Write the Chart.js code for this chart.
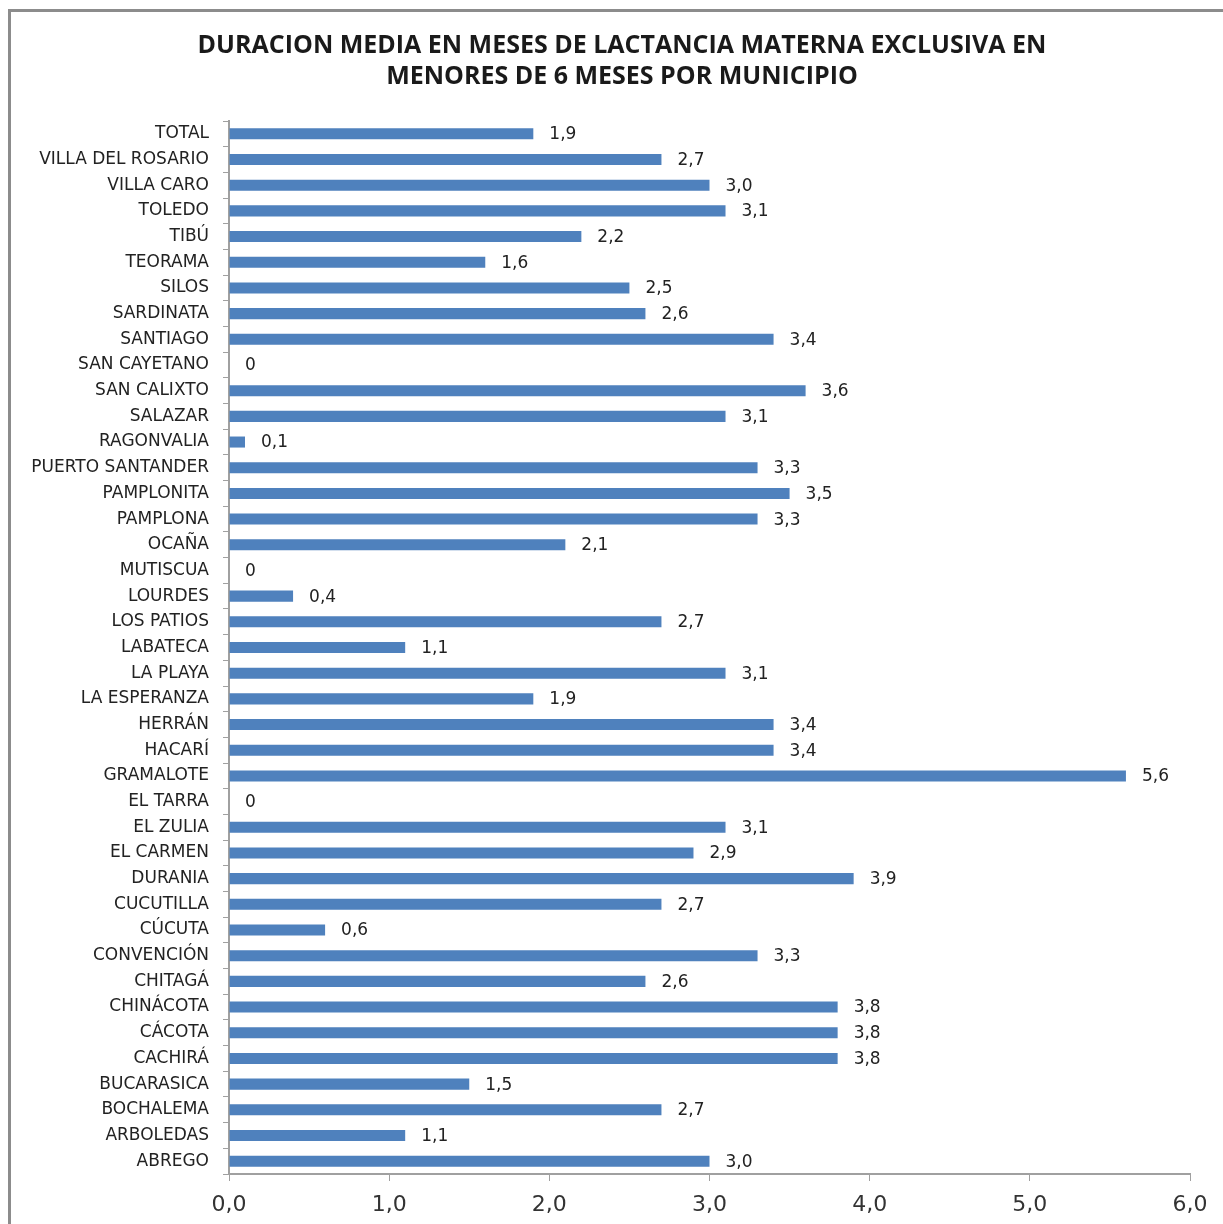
<!DOCTYPE html>
<html>
<head>
<meta charset="utf-8">
<script src="https://cdn.jsdelivr.net/npm/chart.js@4.4.0/dist/chart.umd.min.js"></script>
<style>
  html, body { margin: 0; padding: 0; background: #fff; overflow: hidden; }
  #frame { position: absolute; left: 8px; top: 9px; width: 1300px; height: 1300px;
           border-left: 3px solid #8c8c8c; border-top: 3px solid #8c8c8c; }
  #wrap { position: absolute; left: 0; top: 0; width: 1223px; height: 1224px; }
</style>
</head>
<body>
<div id="frame"></div>
<div id="wrap"><canvas id="chart"></canvas></div>
<script>
// Datos
const municipios = [
    'TOTAL', 'VILLA DEL ROSARIO', 'VILLA CARO', 'TOLEDO', 'TIBÚ', 'TEORAMA', 'SILOS',
    'SARDINATA', 'SANTIAGO', 'SAN CAYETANO', 'SAN CALIXTO', 'SALAZAR', 'RAGONVALIA',
    'PUERTO SANTANDER', 'PAMPLONITA', 'PAMPLONA', 'OCAÑA', 'MUTISCUA', 'LOURDES',
    'LOS PATIOS', 'LABATECA', 'LA PLAYA', 'LA ESPERANZA', 'HERRÁN', 'HACARÍ',
    'GRAMALOTE', 'EL TARRA', 'EL ZULIA', 'EL CARMEN', 'DURANIA', 'CUCUTILLA', 'CÚCUTA',
    'CONVENCIÓN', 'CHITAGÁ', 'CHINÁCOTA', 'CÁCOTA', 'CACHIRÁ', 'BUCARASICA',
    'BOCHALEMA', 'ARBOLEDAS', 'ABREGO'
];
const duracionMeses = [
    1.9, 2.7, 3.0, 3.1, 2.2, 1.6, 2.5,
    2.6, 3.4, 0, 3.6, 3.1, 0.1,
    3.3, 3.5, 3.3, 2.1, 0, 0.4,
    2.7, 1.1, 3.1, 1.9, 3.4, 3.4,
    5.6, 0, 3.1, 2.9, 3.9, 2.7, 0.6,
    3.3, 2.6, 3.8, 3.8, 3.8, 1.5,
    2.7, 1.1, 3.0
];
const ejeX = { min: 0, max: 6, step: 1 };
const titulo = [
    'DURACION MEDIA EN MESES DE LACTANCIA MATERNA EXCLUSIVA EN',
    'MENORES DE 6 MESES POR MUNICIPIO'
];

const fuente = "'DejaVu Sans', sans-serif";
const fuenteTitulo = "'Open Sans', sans-serif";

function formatoComa(v) {
    if (v === 0) return '0';
    return v.toFixed(1).replace('.', ',');
}

// Título centrado en el marco (no en el área del gráfico)
const tituloMarco = {
    id: 'tituloMarco',
    afterDraw(chart) {
        const ctx = chart.ctx;
        ctx.save();
        ctx.font = 'bold 25px ' + fuenteTitulo;
        ctx.fillStyle = '#1a1a1a';
        ctx.textAlign = 'center';
        ctx.textBaseline = 'middle';
        titulo.forEach((linea, i) => ctx.fillText(linea, 622, 46 + i * 31));
        ctx.restore();
    }
};

// Etiquetas de valor al final de cada barra
const etiquetasValor = {
    id: 'etiquetasValor',
    afterDatasetsDraw(chart) {
        const ctx = chart.ctx;
        const meta = chart.getDatasetMeta(0);
        ctx.save();
        ctx.font = '17px ' + fuente;
        ctx.fillStyle = '#222';
        ctx.textAlign = 'left';
        ctx.textBaseline = 'middle';
        meta.data.forEach((bar, i) => {
            ctx.fillText(formatoComa(duracionMeses[i]), bar.x + 16, bar.y + 1);
        });
        ctx.restore();
    }
};

new Chart(document.getElementById('chart'), {
    type: 'bar',
    data: {
        labels: municipios,
        datasets: [{
            data: duracionMeses,
            backgroundColor: '#4F81BD',
            borderWidth: 0,
            barPercentage: 0.43,
            categoryPercentage: 1
        }]
    },
    options: {
        indexAxis: 'y',
        responsive: true,
        maintainAspectRatio: false,
        animation: false,
        layout: { padding: { left: 0, right: 33, top: 121, bottom: 0 } },
        plugins: {
            legend: { display: false },
            tooltip: { enabled: false },
            title: { display: false }
        },
        scales: {
            x: {
                min: ejeX.min,
                max: ejeX.max,
                ticks: {
                    stepSize: ejeX.step,
                    color: '#333',
                    font: { family: fuente, size: 22 },
                    padding: 11,
                    callback: v => v.toFixed(1).replace('.', ',')
                },
                grid: { drawOnChartArea: false, drawTicks: true, tickLength: 7, color: '#a0a0a0' },
                border: { color: '#a0a0a0', width: 2 },
                afterFit(scale) { scale.height = 50; }
            },
            y: {
                ticks: {
                    color: '#222',
                    font: { family: fuente, size: 17 },
                    padding: 14,
                    autoSkip: false
                },
                grid: { drawOnChartArea: false, drawTicks: true, tickLength: 6, color: '#a0a0a0', offset: true },
                border: { color: '#a0a0a0', width: 2 },
                afterFit(scale) { scale.width = 229; }
            }
        }
    },
    plugins: [etiquetasValor, tituloMarco]
});
</script>
</body>
</html>
